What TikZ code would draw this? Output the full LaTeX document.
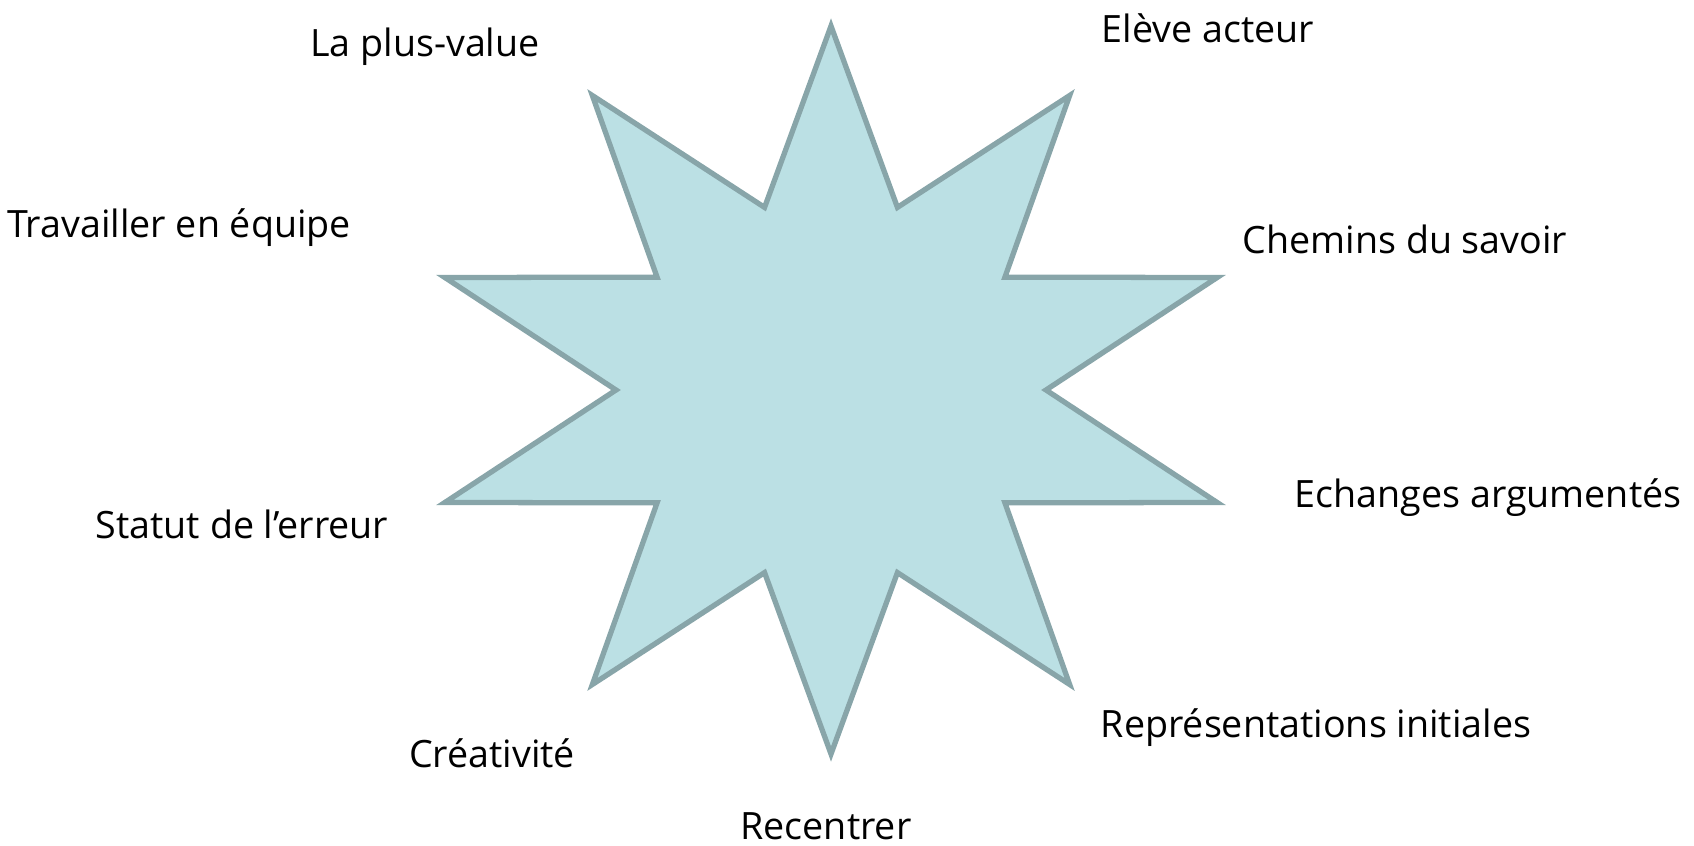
\documentclass[tikz,border=0pt]{standalone}
\usepackage{fontspec}
\setmainfont{Open Sans}
\usetikzlibrary{positioning,calc}
\definecolor{starFill}{RGB}{187,224,228}
\definecolor{starEdge}{RGB}{136,165,169}
\tikzset{
  starln/.style={draw=starEdge, fill=starFill, line width=1.5pt, line join=miter},
  lbl/.style={anchor=base, inner sep=0pt, font=\fontsize{10.7}{13}\selectfont},
}

\begin{document}
\begin{tikzpicture}[x=0.01cm, y=-0.01cm]
    \useasboundingbox (0,0) rectangle (1694,846);
    % Star (ten points, stretched sideways)
    \coordinate (C) at (831,390);
    \draw[starln] ($(C)+(90:406 and 364)$)
      \foreach \k in {0,...,9} {
        -- ($(C)+({108+36*\k}:215 and 192)$)
        -- ($(C)+({126+36*\k}:406 and 364)$)
      } -- cycle;
    % Labels round the star
    \node[lbl] (plusvalue) at (425,57) {La plus-value};
    \node[lbl] (acteur) at (1208,43) {Elève acteur};
    \node[lbl] (equipe) at (179,238) {Travailler en équipe};
    \node[lbl] (chemins) at (1405,254) {Chemins du savoir};
    \node[lbl] (echanges) at (1488,508) {Echanges argumentés};
    \node[lbl] (erreur) at (242,538) {Statut de l’erreur};
    \node[lbl] (creativite) at (492,767) {Créativité};
    \node[lbl] (representations) at (1316,737) {Représentations initiales};
    \node[lbl] (recentrer) at (826,839) {Recentrer};
\end{tikzpicture}
\end{document}
